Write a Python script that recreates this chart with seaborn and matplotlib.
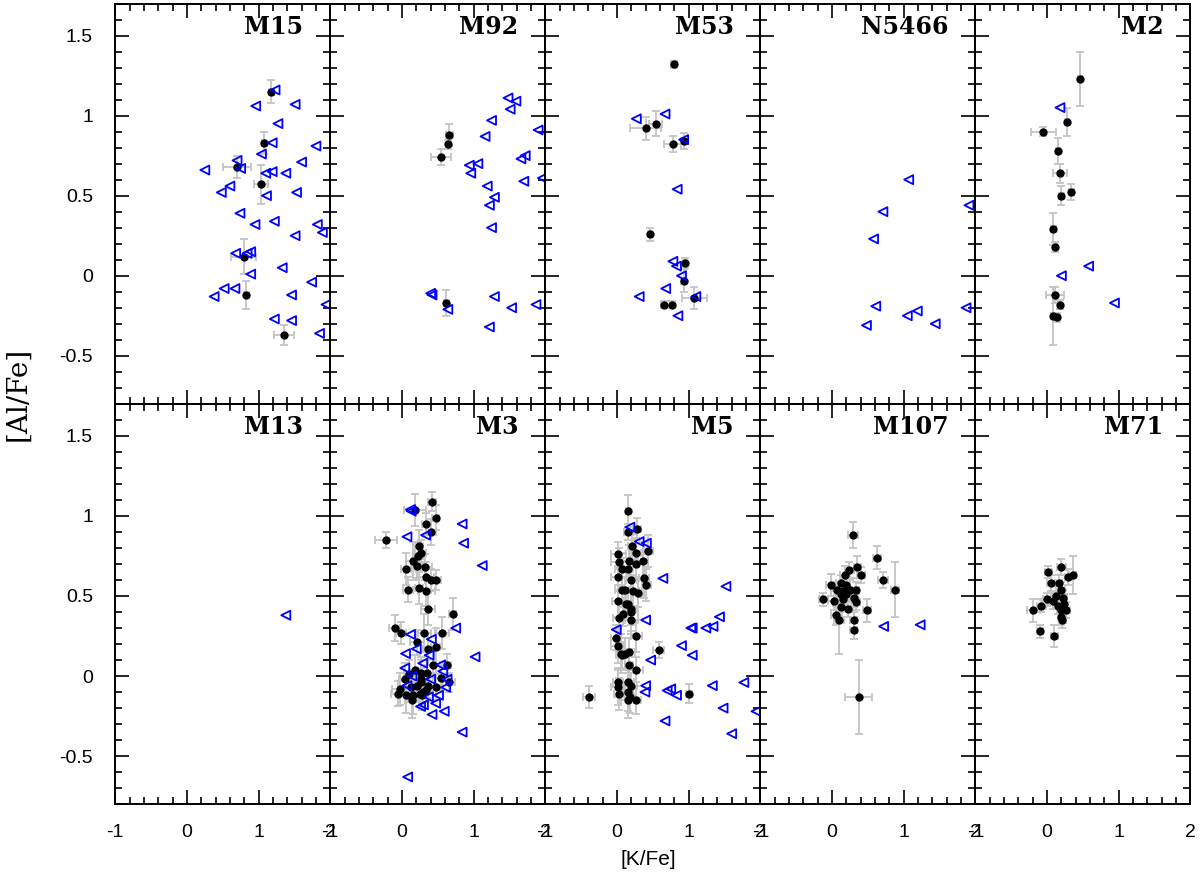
import matplotlib
matplotlib.use('Agg')
import matplotlib.pyplot as plt
import seaborn as sns
import pandas as pd
from matplotlib.ticker import MultipleLocator

# ---- data: [K/Fe], [Al/Fe], errors, and upper limits ----
m15_k = [1.18, 1.08, 0.70, 1.03, 0.79, 0.83, 1.35]
m15_al = [1.15, 0.83, 0.68, 0.57, 0.12, -0.12, -0.37]
m15_kerr = [0.03, 0.03, 0.19, 0.10, 0.17, 0.03, 0.14]
m15_alerr = [0.07, 0.07, 0.07, 0.12, 0.11, 0.09, 0.06]
m15_lim_k = [1.23, 0.96, 1.51, 1.27, 1.19, 1.80, 1.04, 0.70, 1.60, 0.75, 0.25, 1.10, 1.19,
             1.38, 0.60, 0.48, 1.53, 1.11, 0.74, 0.95, 1.22, 1.82, 1.89, 1.51, 0.89, 0.84,
             0.68, 0.89, 1.33, 1.74, 0.52, 0.67, 0.38, 1.46, 1.94, 1.22, 1.46, 1.85]
m15_lim_al = [1.16, 1.06, 1.07, 0.95, 0.83, 0.81, 0.76, 0.72, 0.71, 0.67, 0.66, 0.64, 0.65,
              0.64, 0.56, 0.52, 0.52, 0.50, 0.39, 0.32, 0.34, 0.32, 0.27, 0.25, 0.15, 0.14,
              0.14, 0.01, 0.05, -0.04, -0.08, -0.08, -0.13, -0.12, -0.18, -0.27, -0.28, -0.36]

m92_k = [0.66, 0.64, 0.55, 0.62]
m92_al = [0.88, 0.82, 0.74, -0.17]
m92_kerr = [0.05, 0.03, 0.14, 0.03]
m92_alerr = [0.07, 0.03, 0.05, 0.08]
m92_lim_k = [1.48, 1.59, 1.51, 1.25, 1.90, 1.16, 1.72, 1.66, 0.94, 1.06, 0.96, 1.19, 1.70,
             1.96, 1.29, 1.22, 1.25, 0.40, 0.42, 0.64, 1.29, 1.53, 1.87, 1.22]
m92_lim_al = [1.11, 1.09, 1.04, 0.97, 0.91, 0.87, 0.75, 0.73, 0.69, 0.70, 0.64, 0.56, 0.59,
              0.61, 0.49, 0.44, 0.30, -0.11, -0.12, -0.21, -0.13, -0.20, -0.18, -0.32]

m53_k = [0.79, 0.54, 0.40, 0.78, 0.94, 0.46, 0.95, 0.93, 1.08, 0.65, 0.77]
m53_al = [1.32, 0.95, 0.92, 0.82, 0.84, 0.26, 0.08, -0.03, -0.14, -0.18, -0.18]
m53_kerr = [0.03, 0.09, 0.22, 0.12, 0.05, 0.03, 0.03, 0.03, 0.17, 0.03, 0.03]
m53_alerr = [0.02, 0.08, 0.07, 0.05, 0.05, 0.04, 0.03, 0.07, 0.07, 0.02, 0.02]
m53_lim_k = [0.27, 0.67, 0.93, 0.84, 0.78, 0.83, 0.90, 0.68, 0.31, 1.10, 0.85]
m53_lim_al = [0.98, 1.01, 0.85, 0.54, 0.09, 0.06, 0.00, -0.08, -0.13, -0.13, -0.25]

n5466_k = []
n5466_al = []
n5466_kerr = []
n5466_alerr = []
n5466_lim_k = [1.07, 0.71, 0.58, 1.91, 0.61, 0.48, 1.05, 1.19, 1.44, 1.87]
n5466_lim_al = [0.60, 0.40, 0.23, 0.44, -0.19, -0.31, -0.25, -0.22, -0.30, -0.20]

m2_k = [0.46, 0.28, -0.05, 0.15, 0.18, 0.34, 0.20, 0.09, 0.11, 0.11, 0.18, 0.08, 0.14]
m2_al = [1.23, 0.96, 0.90, 0.78, 0.64, 0.52, 0.50, 0.29, 0.18, -0.12, -0.18, -0.25, -0.26]
m2_kerr = [0.03, 0.03, 0.18, 0.03, 0.10, 0.03, 0.03, 0.03, 0.03, 0.13, 0.03, 0.03, 0.03]
m2_alerr = [0.17, 0.09, 0.03, 0.08, 0.06, 0.05, 0.06, 0.10, 0.03, 0.05, 0.03, 0.18, 0.03]
m2_lim_k = [0.18, 0.58, 0.20, 0.94]
m2_lim_al = [1.05, 0.06, 0.00, -0.17]

m13_k = []
m13_al = []
m13_kerr = []
m13_alerr = []
m13_lim_k = [1.38]
m13_lim_al = [0.38]

m3_k = [0.42, 0.18, 0.47, 0.34, 0.40, -0.22, 0.24, 0.26, 0.22, 0.16, 0.21, 0.06, 0.32, 0.33,
        0.40, 0.47, 0.09, 0.24, 0.34, 0.36, 0.71, -0.10, -0.01, 0.31, 0.56, 0.21, 0.37, 0.47,
        0.44, 0.63, 0.18, 0.26, 0.35, 0.04, 0.26, 0.26, 0.54, 0.66, -0.02, -0.06, 0.06, 0.13,
        0.15, 0.25, 0.30, 0.47, 0.14, 0.28, 0.34, 0.21, 0.37, 0.10]
m3_al = [1.09, 1.04, 0.99, 0.95, 0.90, 0.85, 0.81, 0.77, 0.75, 0.72, 0.69, 0.67, 0.68, 0.62,
         0.60, 0.60, 0.54, 0.55, 0.53, 0.42, 0.39, 0.30, 0.27, 0.27, 0.27, 0.21, 0.17, 0.18,
         0.07, 0.07, 0.04, 0.02, 0.02, -0.02, -0.02, -0.04, -0.01, -0.04, -0.08, -0.11, -0.12,
         -0.07, -0.12, -0.11, -0.10, -0.07, -0.15, -0.12, -0.09, -0.06, -0.06, 0.01]
m3_kerr = [0.06, 0.15, 0.05, 0.06, 0.07, 0.15, 0.06, 0.08, 0.07, 0.10, 0.08, 0.07, 0.10, 0.12,
           0.08, 0.08, 0.07, 0.06, 0.12, 0.10, 0.05, 0.08, 0.07, 0.09, 0.10, 0.10, 0.08, 0.06,
           0.09, 0.05, 0.08, 0.10, 0.12, 0.08, 0.10, 0.07, 0.10, 0.08, 0.12, 0.09, 0.10, 0.08,
           0.10, 0.09, 0.12, 0.08, 0.10, 0.07, 0.09, 0.08, 0.10, 0.07]
m3_alerr = [0.06, 0.10, 0.08, 0.07, 0.08, 0.05, 0.10, 0.08, 0.09, 0.12, 0.08, 0.10, 0.08, 0.09,
            0.07, 0.06, 0.08, 0.10, 0.09, 0.10, 0.10, 0.08, 0.07, 0.12, 0.10, 0.08, 0.10, 0.12,
            0.10, 0.07, 0.09, 0.10, 0.08, 0.10, 0.12, 0.09, 0.08, 0.06, 0.10, 0.08, 0.11, 0.09,
            0.12, 0.08, 0.10, 0.08, 0.11, 0.09, 0.07, 0.10, 0.08, 0.09]
m3_lim_k = [0.12, 0.13, 0.84, 0.07, 0.33, 0.86, 1.12, 0.75, 0.12, 0.41, 0.20, 0.05, 1.02, 0.38,
            0.29, 0.04, 0.54, 0.57, 0.14, 0.40, 0.63, 0.07, 0.51, 0.61, 0.37, 0.47, 0.26, 0.30,
            0.59, 0.42, 0.84, 0.08]
m3_lim_al = [1.04, 1.03, 0.95, 0.87, 0.88, 0.83, 0.69, 0.30, 0.26, 0.23, 0.17, 0.14, 0.12, 0.13,
             0.08, 0.05, 0.07, 0.03, 0.00, -0.02, -0.02, -0.06, -0.12, -0.07, -0.13, -0.17,
             -0.19, -0.18, -0.22, -0.24, -0.35, -0.63]

m5_k = [0.15, 0.28, 0.16, 0.21, 0.26, 0.44, 0.02, 0.17, 0.36, 0.03, 0.27, 0.07, 0.16, 0.02,
        0.38, 0.41, 0.20, 0.23, 0.29, 0.07, 0.11, 0.01, 0.12, 0.16, 0.19, 0.20, 0.08, 0.03,
        0.20, 0.27, -0.02, 0.01, 0.05, 0.11, 0.17, 0.07, 0.58, 0.17, 0.27, 0.01, 0.16, 0.01,
        0.19, 0.03, 0.15, 0.18, 0.15, 0.27, -0.39, 1.01]
m5_al = [1.03, 0.92, 0.90, 0.81, 0.77, 0.78, 0.76, 0.72, 0.72, 0.71, 0.70, 0.67, 0.67, 0.62,
         0.61, 0.57, 0.60, 0.53, 0.52, 0.54, 0.54, 0.47, 0.45, 0.45, 0.42, 0.40, 0.39, 0.36,
         0.35, 0.25, 0.24, 0.19, 0.14, 0.14, 0.15, 0.13, 0.16, 0.07, 0.04, -0.04, -0.04, -0.07,
         -0.06, -0.11, -0.10, -0.13, -0.15, -0.15, -0.13, -0.11]
m5_kerr = [0.03, 0.05, 0.06, 0.06, 0.08, 0.06, 0.10, 0.08, 0.07, 0.12, 0.09, 0.10, 0.06, 0.10,
           0.07, 0.06, 0.08, 0.08, 0.06, 0.10, 0.07, 0.08, 0.10, 0.06, 0.08, 0.10, 0.07, 0.08,
           0.09, 0.08, 0.06, 0.09, 0.07, 0.10, 0.08, 0.09, 0.08, 0.06, 0.10, 0.07, 0.08, 0.10,
           0.09, 0.07, 0.08, 0.06, 0.09, 0.07, 0.08, 0.04]
m5_alerr = [0.10, 0.07, 0.05, 0.08, 0.09, 0.10, 0.08, 0.10, 0.12, 0.09, 0.08, 0.10, 0.07, 0.09,
            0.12, 0.10, 0.08, 0.10, 0.09, 0.11, 0.08, 0.10, 0.09, 0.07, 0.10, 0.12, 0.08, 0.10,
            0.09, 0.10, 0.08, 0.11, 0.12, 0.10, 0.09, 0.08, 0.05, 0.10, 0.08, 0.09, 0.10, 0.11,
            0.08, 0.10, 0.12, 0.10, 0.11, 0.09, 0.07, 0.06]
m5_lim_k = [0.18, 0.31, 0.41, 0.64, 1.52, 1.43, 0.40, 1.03, 1.05, 1.24, 1.34, -0.01, 0.90,
            1.05, 0.47, 0.40, 0.39, 0.70, 0.75, 0.83, 1.33, 1.77, 1.48, 1.94, 0.67, 1.60]
m5_lim_al = [0.93, 0.84, 0.83, 0.61, 0.56, 0.37, 0.35, 0.30, 0.30, 0.30, 0.31, 0.29, 0.19,
             0.13, 0.10, -0.06, -0.10, -0.09, -0.08, -0.12, -0.06, -0.04, -0.20, -0.22, -0.28, -0.36]

m107_k = [0.29, 0.63, 0.71, 0.88, 0.24, 0.35, 0.18, 0.41, -0.01, 0.12, 0.19, 0.07, 0.15, 0.25,
          0.33, 0.12, 0.20, -0.12, 0.03, 0.16, 0.31, 0.33, 0.12, 0.23, 0.49, 0.06, 0.10, 0.30,
          0.30, 0.37]
m107_al = [0.88, 0.74, 0.60, 0.54, 0.66, 0.68, 0.63, 0.63, 0.57, 0.58, 0.57, 0.54, 0.53, 0.54,
           0.54, 0.51, 0.51, 0.48, 0.47, 0.48, 0.49, 0.46, 0.43, 0.42, 0.41, 0.38, 0.35, 0.35,
           0.29, -0.13]
m107_kerr = [0.07, 0.06, 0.07, 0.06, 0.06, 0.05, 0.07, 0.05, 0.08, 0.07, 0.06, 0.08, 0.06, 0.07,
             0.05, 0.06, 0.07, 0.06, 0.08, 0.07, 0.05, 0.06, 0.07, 0.06, 0.06, 0.08, 0.07, 0.05,
             0.05, 0.19]
m107_alerr = [0.08, 0.07, 0.05, 0.17, 0.05, 0.07, 0.06, 0.05, 0.07, 0.05, 0.06, 0.05, 0.07, 0.06,
              0.05, 0.06, 0.05, 0.04, 0.06, 0.05, 0.06, 0.05, 0.06, 0.05, 0.07, 0.06, 0.21, 0.05,
              0.06, 0.23]
m107_lim_k = [0.72, 1.23]
m107_lim_al = [0.31, 0.32]

m71_k = [0.20, 0.02, 0.36, 0.29, 0.06, 0.16, 0.20, 0.13, 0.00, 0.22, 0.08, 0.15, 0.23, 0.26,
         -0.19, -0.08, 0.19, 0.20, 0.21, -0.10, 0.10]
m71_al = [0.68, 0.65, 0.63, 0.62, 0.58, 0.58, 0.54, 0.50, 0.48, 0.49, 0.47, 0.44, 0.45, 0.41,
          0.41, 0.44, 0.41, 0.37, 0.35, 0.28, 0.25]
m71_kerr = [0.06, 0.05, 0.05, 0.04, 0.06, 0.05, 0.05, 0.07, 0.05, 0.06, 0.05, 0.06, 0.05, 0.06,
            0.09, 0.06, 0.05, 0.05, 0.05, 0.04, 0.05]
m71_alerr = [0.05, 0.04, 0.12, 0.05, 0.05, 0.05, 0.05, 0.06, 0.04, 0.05, 0.05, 0.05, 0.06, 0.05,
             0.07, 0.04, 0.05, 0.05, 0.05, 0.04, 0.07]
m71_lim_k = []
m71_lim_al = []

clusters = [
    ('M15', m15_k, m15_al, m15_kerr, m15_alerr, m15_lim_k, m15_lim_al),
    ('M92', m92_k, m92_al, m92_kerr, m92_alerr, m92_lim_k, m92_lim_al),
    ('M53', m53_k, m53_al, m53_kerr, m53_alerr, m53_lim_k, m53_lim_al),
    ('N5466', n5466_k, n5466_al, n5466_kerr, n5466_alerr, n5466_lim_k, n5466_lim_al),
    ('M2', m2_k, m2_al, m2_kerr, m2_alerr, m2_lim_k, m2_lim_al),
    ('M13', m13_k, m13_al, m13_kerr, m13_alerr, m13_lim_k, m13_lim_al),
    ('M3', m3_k, m3_al, m3_kerr, m3_alerr, m3_lim_k, m3_lim_al),
    ('M5', m5_k, m5_al, m5_kerr, m5_alerr, m5_lim_k, m5_lim_al),
    ('M107', m107_k, m107_al, m107_kerr, m107_alerr, m107_lim_k, m107_lim_al),
    ('M71', m71_k, m71_al, m71_kerr, m71_alerr, m71_lim_k, m71_lim_al),
]

xticks = [-1, 0, 1, 2]
xticklabels = ['-1', '0', '1', '2']
yticks = [-0.5, 0, 0.5, 1, 1.5]
yticklabels = ['-0.5', '0', '0.5', '1', '1.5']

sns.set_style('ticks')
plt.rcParams['font.family'] = ['Liberation Sans', 'DejaVu Sans']
plt.rcParams['axes.unicode_minus'] = False
plt.rcParams['text.color'] = 'black'

fig, axes = plt.subplots(2, 5, figsize=(12, 8.76), dpi=100, sharex=True, sharey=True)
fig.subplots_adjust(left=0.096, right=0.992, top=0.996, bottom=0.082, wspace=0, hspace=0)

for i, (name, k, al, kerr, alerr, lk, lal) in enumerate(clusters):
    ax = axes.flat[i]
    if len(k):
        ax.errorbar(k, al, xerr=kerr, yerr=alerr, fmt='none', ecolor='#c4c4c4',
                    elinewidth=1.3, capsize=3, capthick=1.3, zorder=1)
        det = pd.DataFrame({'k': k, 'al': al})
        sns.scatterplot(data=det, x='k', y='al', ax=ax, color='black', s=36,
                        edgecolor='black', linewidth=0, zorder=3)
    if len(lk):
        lim = pd.DataFrame({'k': lk, 'al': lal})
        sns.scatterplot(data=lim, x='k', y='al', ax=ax, marker='<', s=42,
                        facecolor='none', edgecolor='#0000ff', linewidth=1.3, zorder=4)
    ax.text(0.875, 0.972, name, transform=ax.transAxes, ha='right', va='top',
            fontsize=17, fontweight='bold', family='DejaVu Serif', color='black')
    ax.set_xlim(-1, 2)
    ax.set_ylim(-0.8, 1.7)
    ax.set_xlabel('')
    ax.set_ylabel('')
    ax.xaxis.set_minor_locator(MultipleLocator(0.2))
    ax.yaxis.set_minor_locator(MultipleLocator(0.1))
    ax.tick_params(which='both', direction='in', top=True, right=True, width=1.2,
                   color='black', labelsize=14, labelcolor='black')
    ax.tick_params(which='major', length=10)
    ax.tick_params(which='minor', length=5)
    for sp in ax.spines.values():
        sp.set_linewidth(1.4)
        sp.set_color('black')
    ax.set_xticks(xticks)
    ax.set_yticks(yticks)

for ax in axes[1]:
    ax.tick_params(labelbottom=True, pad=14)
    ax.set_xticklabels(xticklabels)
for ax in axes[:, 0]:
    ax.set_yticklabels(yticklabels)
    ax.tick_params(axis='y', pad=16)

fig.text(0.54, 0.008, '[K/Fe]', ha='center', va='bottom', fontsize=15, color='black')
fig.text(0.004, 0.55, '[Al/Fe]', ha='left', va='center', rotation=90,
         fontsize=20, family='DejaVu Serif', color='black')

plt.savefig('out.png', dpi=100)
plt.close()
